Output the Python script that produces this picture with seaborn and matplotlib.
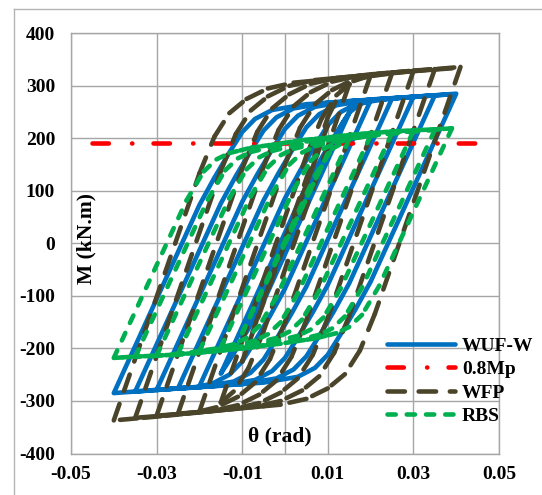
"""
Cyclic moment-rotation curves of WUF-W, WFP and RBS connections
----------------------------------------------------------------
Hysteresis loops drawn with seaborn, 0.8Mp reference line in red.
Dashed series are drawn segment by segment so the dash pattern
restarts at every data point, the way the spreadsheet chart does.
"""

import pandas as pd
import matplotlib.pyplot as plt
import seaborn as sns
from matplotlib.lines import Line2D

# ---- data (theta in rad, M in kN.m) ----
# one line per half cycle
wuf_w_theta = [
    0, 0.01, -0.01,
    0.01, 0.0135, 0.015,
    -0.005, -0.0085, -0.012, -0.015,
    0.005, 0.0085, 0.012, 0.015, 0.0175, 0.02,
    0, -0.0035, -0.007, -0.01, -0.013, -0.017, -0.02,
    0, 0.0035, 0.007, 0.01, 0.013, 0.017, 0.025,
    0.005, 0.0015, -0.002, -0.005, -0.008, -0.012, -0.02, -0.025,
    -0.005, -0.0015, 0.002, 0.005, 0.008, 0.012, 0.02, 0.03,
    0.01, 0.0065, 0.003, 0, -0.003, -0.007, -0.015, -0.03,
    -0.01, -0.0065, -0.003, 0, 0.003, 0.007, 0.015, 0.03, 0.035,
    0.015, 0.0115, 0.008, 0.005, 0.002, -0.002, -0.01, -0.025, -0.035,
    -0.015, -0.0115, -0.008, -0.005, -0.002, 0.002, 0.01, 0.025, 0.04,
    0.02, 0.0165, 0.013, 0.01, 0.007, 0.003, -0.005, -0.02, -0.04,
    -0.02, -0.0165, -0.013, -0.01, -0.007, -0.003, 0.005, 0.02, 0.039,
]
wuf_w_m = [
    0, 180, -180,
    178, 230, 248,
    -110, -162, -210, -248,
    110, 162, 210, 249, 265, 272,
    -86, -138, -186, -225, -250, -267, -272,
    86, 138, 186, 225, 250, 267, 276,
    -82, -134, -182, -221, -246, -263, -274, -276,
    82, 134, 182, 221, 246, 263, 274, 279,
    -79, -131, -179, -218, -243, -260, -271, -279,
    79, 131, 179, 218, 243, 260, 271, 279, 282,
    -76, -128, -176, -215, -240, -257, -268, -276, -282,
    76, 128, 176, 215, 240, 257, 268, 276, 285,
    -73, -125, -173, -212, -237, -254, -265, -273, -285,
    73, 125, 173, 212, 237, 254, 265, 273, 284,
]

wfp_theta = [
    0, 0.01, -0.01,
    0.01, 0.013, 0.015,
    -0.005, -0.0085, -0.012, -0.015,
    0.005, 0.0085, 0.012, 0.016, 0.02,
    0, -0.0035, -0.007, -0.011, -0.016, -0.02,
    0, 0.0035, 0.007, 0.011, 0.016, 0.0205, 0.025,
    0.005, 0.0015, -0.002, -0.006, -0.011, -0.017, -0.021, -0.025,
    -0.005, -0.0015, 0.002, 0.006, 0.011, 0.017, 0.0215, 0.026, 0.03,
    0.01, 0.0065, 0.003, -0.001, -0.006, -0.012, -0.016, -0.02, -0.025, -0.03,
    -0.01, -0.0065, -0.003, 0.001, 0.006, 0.012, 0.016, 0.02, 0.025, 0.03,
    0.035,
    0.015, 0.0115, 0.008, 0.004, -0.001, -0.007, -0.011, -0.015, -0.02,
    -0.025, -0.03, -0.035,
    -0.015, -0.0115, -0.008, -0.004, 0.001, 0.007, 0.011, 0.015, 0.02,
    0.025, 0.03, 0.0355, 0.041,
    0.021, 0.0175, 0.014, 0.01, 0.005, -0.001, -0.005, -0.009, -0.014,
    -0.019, -0.024, -0.029, -0.0345, -0.04,
    -0.02, -0.0165, -0.013, -0.009, -0.004, 0.002, 0.006, 0.01, 0.015,
    0.02, 0.025, 0.03, 0.035, 0.04,
]
wfp_m = [
    0, 225, -225,
    240, 290, 303,
    -167, -237, -282, -303,
    167, 237, 282, 309, 320,
    -150, -220, -265, -292, -312, -320,
    150, 220, 265, 292, 312, 319, 324,
    -146, -216, -261, -288, -308, -319, -322, -324,
    146, 216, 261, 288, 308, 319, 323, 326, 328,
    -142, -212, -257, -284, -304, -315, -318, -321, -325, -328,
    142, 212, 257, 284, 304, 315, 318, 321, 325, 328,
    332,
    -138, -208, -253, -280, -300, -311, -314, -317, -321,
    -325, -329, -332,
    138, 208, 253, 280, 300, 311, 314, 317, 321,
    325, 329, 332, 336,
    -134, -204, -249, -276, -296, -307, -310, -313, -317,
    -321, -325, -329, -333, -337,
    133, 203, 248, 275, 295, 306, 309, 312, 316,
    320, 324, 328, 331, 334,
]

rbs_theta = [
    0, 0.01, -0.01,
    0.007, 0.011, 0.015,
    -0.002, -0.006, -0.009, -0.012, -0.015,
    0.002, 0.006, 0.009, 0.012, 0.017, 0.02,
    0.003, -0.001, -0.004, -0.007, -0.012, -0.02,
    -0.003, 0.001, 0.004, 0.007, 0.012, 0.02, 0.025,
    0.008, 0.004, 0.001, -0.002, -0.007, -0.015, -0.025,
    -0.008, -0.004, -0.001, 0.002, 0.007, 0.015, 0.03,
    0.013, 0.009, 0.006, 0.003, -0.002, -0.01, -0.02, -0.03,
    -0.013, -0.009, -0.006, -0.003, 0.002, 0.01, 0.02, 0.035,
    0.018, 0.014, 0.011, 0.008, 0.003, -0.005, -0.015, -0.025, -0.035,
    -0.018, -0.014, -0.011, -0.008, -0.003, 0.005, 0.015, 0.025, 0.039,
    0.022, 0.018, 0.015, 0.012, 0.0095, 0.007, 0.0045, 0.002, -0.001,
    -0.0035, -0.006, -0.0085, -0.011, -0.0135, -0.016, -0.0185, -0.021,
    -0.0235, -0.026, -0.0285, -0.031, -0.0335, -0.036, -0.038, -0.04,
    -0.023, -0.019, -0.016, -0.013, -0.0105, -0.008, -0.0055, -0.003,
    -0.0005, 0.002, 0.0045, 0.007, 0.0095, 0.012, 0.0145, 0.017, 0.0195,
    0.022, 0.0245, 0.027, 0.0295, 0.032, 0.0345, 0.037, 0.039,
]
rbs_m = [
    0, 171, -171,
    129, 180, 198,
    -102, -157, -180, -192, -198,
    102, 157, 180, 192, 202, 205,
    -95, -150, -173, -185, -195, -205,
    95, 150, 173, 185, 195, 205, 210,
    -90, -145, -168, -180, -190, -200, -210,
    90, 145, 168, 180, 190, 200, 214,
    -86, -141, -164, -176, -186, -196, -206, -214,
    86, 141, 164, 176, 186, 196, 206, 216,
    -84, -139, -162, -174, -184, -194, -204, -212, -216,
    84, 139, 162, 174, 184, 194, 204, 212, 219,
    -81, -136, -159, -171, -176, -181, -184, -187, -191,
    -193, -196, -199, -201, -203, -205, -207, -209,
    -210, -212, -213, -214, -215, -216, -217, -218,
    82, 137, 160, 172, 177, 182, 185, 188,
    191, 194, 197, 199, 201, 204, 206, 208, 210,
    211, 213, 214, 215, 216, 217, 218, 219,
]

mp08_theta = [-0.045, 0.0474]
mp08_m = [192, 192]

x_ticks = [-0.05, -0.03, -0.01, 0.01, 0.03, 0.05]
x_tick_labels = ["-0.05", "-0.03", "-0.01", "0.01", "0.03", "0.05"]
y_ticks = [-400, -300, -200, -100, 0, 100, 200, 300, 400]
y_tick_labels = ["-400", "-300", "-200", "-100", "0", "100", "200", "300", "400"]


def to_segments(theta, m):
    """
    Split a path into 2-point pieces, one unit per piece.
    """
    rows = []
    for i in range(len(theta) - 1):
        rows.append((i, theta[i], m[i]))
        rows.append((i, theta[i + 1], m[i + 1]))
    return pd.DataFrame(rows, columns=["seg", "theta", "M"])


# ---- style ----
plt.rcParams["font.family"] = ["Liberation Serif", "DejaVu Serif"]
plt.rcParams["font.weight"] = "bold"

GRID = "#a6a6a6"
LW = 3.3

fig = plt.figure(figsize=(5.42, 4.95), dpi=100)
ax = fig.add_axes([71 / 542, 1 - 453.5 / 495, 428 / 542, 420.2 / 495])

common = dict(sort=False, estimator=None, ax=ax, lw=LW,
              solid_capstyle="round", dash_capstyle="round",
              solid_joinstyle="round", dash_joinstyle="round")

sns.lineplot(data=pd.DataFrame({"theta": wuf_w_theta, "M": wuf_w_m}),
             x="theta", y="M", color="#0070C0", label="WUF-W", **common)
sns.lineplot(data=pd.DataFrame({"theta": mp08_theta, "M": mp08_m}),
             x="theta", y="M", color="#FF0000", label="0.8Mp",
             linestyle=(0, (3.57, 5.07, 0.05, 4.63)), **common)
sns.lineplot(data=to_segments(wfp_theta, wfp_m), x="theta", y="M",
             units="seg", color="#4A452A", label="WFP",
             linestyle=(0, (3.8, 3.0)), **common)
sns.lineplot(data=to_segments(rbs_theta, rbs_m), x="theta", y="M",
             units="seg", color="#00B050", label="RBS",
             linestyle=(0, (1.8, 2.4)), **common)

ax.set_xlim(-0.05, 0.05)
ax.set_ylim(-400, 400)
ax.set_xticks(x_ticks)
ax.set_xticklabels(x_tick_labels)
ax.set_yticks(y_ticks)
ax.set_yticklabels(y_tick_labels)
ax.tick_params(axis="both", length=0, labelsize=14)
ax.tick_params(axis="y", pad=11.5)
ax.tick_params(axis="x", pad=9)
ax.grid(True, color=GRID, lw=1, linestyle="-")
ax.set_axisbelow(True)
ax.axvline(0, color=GRID, lw=1, linestyle="-", zorder=0.5)
for s in ax.spines.values():
    s.set_color(GRID)
    s.set_linewidth(1)
ax.set_xlabel("")
ax.set_ylabel("")

# axis titles sit inside the plot area
fig.text(86 / 542, 1 - 238 / 495, "M (kN.m)", rotation=90,
         ha="center", va="center", fontsize=15.5, fontweight="bold")
fig.text(280 / 542, 1 - 436 / 495, "θ (rad)",
         ha="center", va="center", fontsize=15.5, fontweight="bold")

# one legend entry per series (segments share a label)
handles, labels = ax.get_legend_handles_labels()
first = {}
for h, lab in zip(handles, labels):
    first.setdefault(lab, h)
ax.legend(list(first.values()), list(first.keys()),
          loc="upper left", bbox_to_anchor=(387 / 542, 1 - 337 / 495),
          bbox_transform=fig.transFigure, frameon=False, borderpad=0,
          borderaxespad=0, handlelength=3.5, handletextpad=0.35,
          labelspacing=0.3, prop={"family": "Liberation Serif",
                                  "weight": "bold", "size": 14})

# chart area border (cropped on the right and bottom)
fig.add_artist(Line2D([14 / 542, 1], [1 - 9 / 495, 1 - 9 / 495],
                      transform=fig.transFigure, color="#b4b4b4", lw=1))
fig.add_artist(Line2D([14 / 542, 14 / 542], [0, 1 - 9 / 495],
                      transform=fig.transFigure, color="#b4b4b4", lw=1))

fig.savefig("out.png", dpi=100)
